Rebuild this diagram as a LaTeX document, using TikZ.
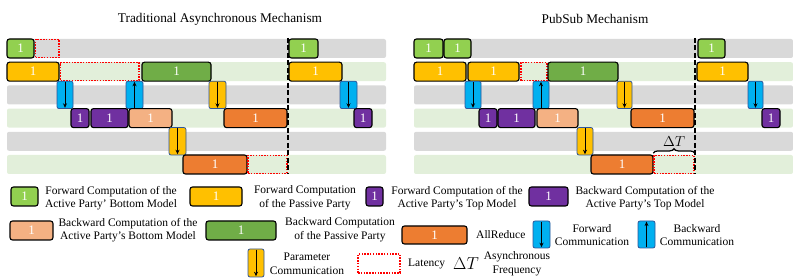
\documentclass[tikz,border=0pt]{standalone}
\usepackage{fontspec}
\setmainfont{Liberation Serif}
\usetikzlibrary{arrows.meta,decorations.pathreplacing}
\definecolor{cLG}{HTML}{92D050}
\definecolor{cYe}{HTML}{FFC000}
\definecolor{cPu}{HTML}{7030A0}
\definecolor{cSa}{HTML}{F4B183}
\definecolor{cDG}{HTML}{70AD47}
\definecolor{cOr}{HTML}{ED7D31}
\definecolor{cBl}{HTML}{00B0F0}
\definecolor{cCB}{HTML}{2F5597}
\definecolor{rowA}{HTML}{D9D9D9}
\definecolor{rowB}{HTML}{E2EFDA}
\newcommand\bx[7]{\node[#6, minimum width={(#4-#2)*1pt}, minimum height={(#5-#3)*1pt}] (#1) at ({(#2+#4)/2},{(#3+#5)/2}) {#7};}
\tikzset{
  blk/.style={draw=black, line width=1.1pt, rounded corners=2.5pt, inner sep=0pt, text=white, font=\fontsize{13}{13}\selectfont},
  rowbar/.style={rounded corners=2pt, inner sep=0pt},
  comm/.style={draw=cCB, line width=0.8pt, rounded corners=2pt, inner sep=0pt},
  lat/.style={draw=red, line width=1.6pt, dash pattern=on 1.5pt off 1.3pt, inner sep=0pt},
  fwd/.style={line width=1pt, -{Stealth[length=4.5pt,width=4pt]}},
  vline/.style={line width=1.3pt, dash pattern=on 5pt off 2.5pt},
  lgt/.style={font=\fontsize{11.5}{13.5}\selectfont, align=center, inner sep=0pt},
  ttl/.style={font=\fontsize{13.3}{16}\selectfont, inner sep=0pt}
}
\newcommand\rowsAt[3]{%
  \bx{#1a}{#2}{39}{#3}{58}{rowbar, fill=rowA}{}
  \bx{#1b}{#2}{62.2}{#3}{81.2}{rowbar, fill=rowB}{}
  \bx{#1c}{#2}{85.4}{#3}{104.4}{rowbar, fill=rowA}{}
  \bx{#1d}{#2}{108.6}{#3}{127.6}{rowbar, fill=rowB}{}
  \bx{#1e}{#2}{131.8}{#3}{150.8}{rowbar, fill=rowA}{}
  \bx{#1f}{#2}{155}{#3}{174}{rowbar, fill=rowB}{}
}
\newcommand\down[1]{\draw[fwd] ([yshift=-1pt]#1.north) -- ([yshift=1.2pt]#1.south);}
\newcommand\up[1]{\draw[fwd] ([yshift=1.2pt]#1.south) -- ([yshift=-1pt]#1.north);}
\begin{document}
\begin{tikzpicture}[x=1pt,y=-1pt]
\useasboundingbox (0,0) rectangle (793,280);
% titles
\node[ttl] (t1) at (220,19) {Traditional Asynchronous Mechanism};
\node[ttl] (t2) at (595,19) {PubSub Mechanism};
% rows
\rowsAt{L}{7}{386}
\rowsAt{R}{414}{793}
% ---- left panel
\bx{a1}{7}{39}{34}{58}{blk, fill=cLG}{1}
\bx{l1}{35.5}{39.5}{59}{57.5}{lat}{}
\bx{a2}{7}{62.2}{59}{81.2}{blk, fill=cYe}{1}
\bx{l2}{60.5}{62.7}{139}{80.7}{lat}{}
\bx{a3}{142}{62.2}{211}{81.2}{blk, fill=cDG}{1}
\bx{c1}{57}{81.2}{73}{108.6}{comm, fill=cBl}{}
\bx{c2}{126}{81.2}{143}{108.6}{comm, fill=cBl}{}
\bx{c3}{209}{81.2}{226}{108.6}{comm, fill=cYe}{}
\down{c1} \up{c2} \down{c3}
\bx{a4}{71}{108.6}{89}{127.6}{blk, fill=cPu}{1}
\bx{a5}{91}{108.6}{128}{127.6}{blk, fill=cPu}{1}
\bx{a6}{129}{108.6}{172}{127.6}{blk, fill=cSa}{1}
\bx{a7}{224}{108.6}{287}{127.6}{blk, fill=cOr}{1}
\bx{c4}{169}{127.6}{186}{155}{comm, fill=cYe}{}
\down{c4}
\bx{a8}{183}{155}{247}{174}{blk, fill=cOr}{1}
\bx{l3}{248}{155.5}{287}{173.5}{lat}{}
\coordinate (v1t) at (288,38);
\coordinate (v1b) at (288,174);
\draw[vline] (v1t) -- (v1b);
\bx{a9}{289}{39}{318}{58}{blk, fill=cLG}{1}
\bx{a10}{289}{62.2}{342}{81.2}{blk, fill=cYe}{1}
\bx{c5}{340}{81.2}{357}{108.6}{comm, fill=cBl}{}
\down{c5}
\bx{a11}{354}{108.6}{372}{127.6}{blk, fill=cPu}{1}
% ---- right panel
\bx{b1}{414}{39}{443}{58}{blk, fill=cLG}{1}
\bx{b2}{444}{39}{471}{58}{blk, fill=cLG}{1}
\bx{b3}{414}{62.2}{466}{81.2}{blk, fill=cYe}{1}
\bx{b4}{468}{62.2}{519}{81.2}{blk, fill=cYe}{1}
\bx{m1}{521}{62.7}{547}{80.7}{lat}{}
\bx{b5}{548}{62.2}{618}{81.2}{blk, fill=cDG}{1}
\bx{d1}{465}{81.2}{481}{108.6}{comm, fill=cBl}{}
\bx{d2}{533}{81.2}{549}{108.6}{comm, fill=cBl}{}
\bx{d3}{617}{81.2}{632}{108.6}{comm, fill=cYe}{}
\down{d1} \up{d2} \down{d3}
\bx{b6}{479}{108.6}{497}{127.6}{blk, fill=cPu}{1}
\bx{b7}{498}{108.6}{535}{127.6}{blk, fill=cPu}{1}
\bx{b8}{537}{108.6}{578}{127.6}{blk, fill=cSa}{1}
\bx{b9}{631}{108.6}{694}{127.6}{blk, fill=cOr}{1}
\bx{d4}{577}{127.6}{593}{155}{comm, fill=cYe}{}
\down{d4}
\bx{b10}{591}{155}{653}{174}{blk, fill=cOr}{1}
\bx{m2}{654}{155.5}{694}{173.5}{lat}{}
\draw[decorate, decoration={brace, amplitude=4.5pt}, line width=1.2pt] ([yshift=1.5pt]m2.north west) -- ([yshift=1.5pt]m2.north east) node[midway, above=6pt, inner sep=0pt, font=\fontsize{15}{15}\selectfont] (dT) {$\Delta T$};
\coordinate (v2t) at (695,38);
\coordinate (v2b) at (695,174);
\draw[vline] (v2t) -- (v2b);
\bx{b11}{698}{39}{725}{58}{blk, fill=cLG}{1}
\bx{b12}{697}{62.2}{748}{81.2}{blk, fill=cYe}{1}
\bx{d5}{748}{81.2}{763}{108.6}{comm, fill=cBl}{}
\down{d5}
\bx{b13}{762}{108.6}{780}{127.6}{blk, fill=cPu}{1}
% ---- legend
\bx{g1}{11}{187}{38}{206}{blk, fill=cLG}{1}
\node[lgt] (g1t) at (111,198) {Forward Computation of the\\Active Party' Bottom Model};
\bx{g2}{190}{187}{242}{206}{blk, fill=cYe}{1}
\node[lgt] (g2t) at (305,198) {Forward Computation\\of the Passive Party};
\bx{g3}{366}{187}{383}{206}{blk, fill=cPu}{1}
\node[lgt] (g3t) at (457,198) {Forward Computation of the\\Active Party's Top Model};
\bx{g4}{529}{187}{568}{206}{blk, fill=cPu}{1}
\node[lgt] (g4t) at (645,198) {Backward Computation of the\\Active Party's Top Model};
\bx{g5}{10}{221}{53}{240}{blk, fill=cSa}{1}
\node[lgt] (g5t) at (128,230) {Backward Computation of the\\Active Party's Bottom Model};
\bx{g6}{206}{221}{276}{240}{blk, fill=cDG}{1}
\node[lgt] (g6t) at (340,230) {Backward Computation\\of the Passive Party};
\bx{g7}{402}{226}{467}{244}{blk, fill=cOr}{1}
\node[lgt, anchor=west] (g7t) at (476,235) {AllReduce};
\bx{g8}{533}{221}{550}{248}{comm, fill=cBl}{}
\down{g8}
\node[lgt] (g8t) at (592,235) {Forward\\Communication};
\bx{g9}{638}{221}{655}{248}{comm, fill=cBl}{}
\up{g9}
\node[lgt] (g9t) at (697,235) {Backward\\Communication};
\bx{g10}{248}{249}{264}{277}{comm, fill=cYe}{}
\down{g10}
\node[lgt] (g10t) at (307,264) {Parameter\\Communication};
\bx{g11}{358}{254}{400}{273}{lat}{}
\node[lgt, anchor=west] (g11t) at (408,264) {Latency};
\node[inner sep=0pt, font=\fontsize{16}{16}\selectfont] (g12) at (466,264) {$\Delta T$};
\node[lgt] (g12t) at (517,264) {Asynchronous\\Frequency};
\end{tikzpicture}
\end{document}
